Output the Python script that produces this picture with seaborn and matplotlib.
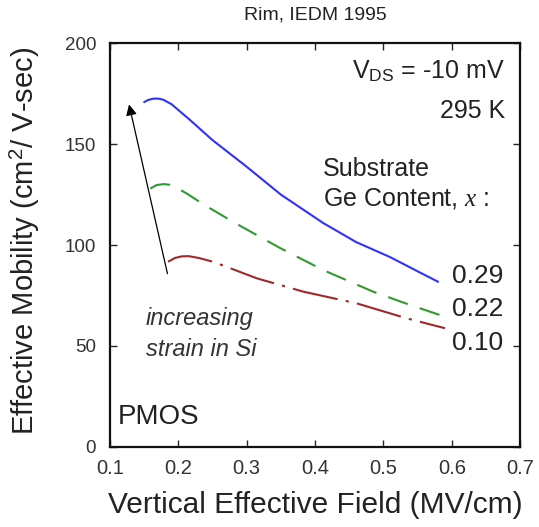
import pandas as pd
import matplotlib
matplotlib.use("Agg")
import matplotlib.pyplot as plt
import seaborn as sns

# values
field_029 = [0.150, 0.156, 0.163, 0.170, 0.178, 0.190, 0.217, 0.250, 0.300, 0.350, 0.412, 0.460, 0.510, 0.550, 0.580]
mob_029 = [170.8, 171.9, 172.5, 172.6, 172.0, 169.8, 162.0, 152.0, 138.8, 125.0, 110.9, 101.5, 94.0, 87.0, 81.8]

field_022 = [0.159, 0.168, 0.178, 0.190, 0.212, 0.240, 0.280, 0.349, 0.412, 0.485, 0.540, 0.583]
mob_022 = [128.0, 129.7, 130.2, 129.8, 125.6, 119.5, 111.5, 98.5, 87.6, 76.9, 70.2, 65.3]

field_010 = [0.185, 0.195, 0.205, 0.215, 0.230, 0.251, 0.280, 0.315, 0.383, 0.461, 0.534, 0.590]
mob_010 = [91.7, 93.6, 94.4, 94.5, 93.6, 91.7, 88.0, 83.5, 76.9, 71.1, 63.7, 58.8]

ge_labels = ["0.29", "0.22", "0.10"]
x_ticks = [0.1, 0.2, 0.3, 0.4, 0.5, 0.6, 0.7]
y_ticks = [0, 50, 100, 150, 200]

df = pd.concat([
    pd.DataFrame({"field": field_029, "mob": mob_029, "ge": "0.29"}),
    pd.DataFrame({"field": field_022, "mob": mob_022, "ge": "0.22"}),
    pd.DataFrame({"field": field_010, "mob": mob_010, "ge": "0.10"}),
])

sns.set_style("ticks")
plt.rcParams["font.family"] = ["Liberation Sans", "DejaVu Sans"]
plt.rcParams["mathtext.fontset"] = "custom"
plt.rcParams["mathtext.rm"] = "Liberation Sans"
plt.rcParams["mathtext.it"] = "Liberation Serif:italic"

fig = plt.figure(figsize=(5.39, 5.27), dpi=100)
ax = fig.add_axes([0.204, 0.152, 0.761, 0.766])

palette = {"0.29": "#3030ff", "0.22": "#2f9a2f", "0.10": "#a02828"}
dashes = {"0.29": "", "0.22": (10, 6), "0.10": (22, 4, 1.5, 4)}
sns.lineplot(data=df, x="field", y="mob", hue="ge", style="ge", palette=palette,
             dashes=dashes, sort=False, legend=False, linewidth=1.5, ax=ax)

ax.set_xlim(0.1, 0.7)
ax.set_ylim(0, 200)
ax.set_xticks(x_ticks)
ax.set_yticks(y_ticks)
ax.set_xticklabels([f"{t:.1f}" for t in x_ticks], fontsize=14.5, color="#333333")
ax.set_yticklabels([str(t) for t in y_ticks], fontsize=13.5, color="#333333")
ax.tick_params(direction="in", length=5, width=1, top=True, right=True)
ax.tick_params(axis="x", pad=9)
ax.tick_params(axis="y", pad=10)
for sp in ax.spines.values():
    sp.set_linewidth(1.6)
    sp.set_color("#111111")

ax.set_xlabel("Vertical Effective Field (MV/cm)", fontsize=21.5, color="#222222")
ax.set_ylabel("Effective Mobility (cm$^2$/ V-sec)", fontsize=21, color="#222222")
ax.xaxis.set_label_coords(0.5, -0.11)
ax.yaxis.set_label_coords(-0.165, 0.51)
ax.set_title("Rim, IEDM 1995", fontsize=14, color="#222222", pad=17)

ax.text(0.678, 186, r"V$_{\mathrm{DS}}$ = -10 mV", fontsize=18, ha="right", va="center", color="#222222")
ax.text(0.678, 166.5, "295 K", fontsize=18, ha="right", va="center", color="#222222")
ax.text(0.412, 137.5, "Substrate", fontsize=18, ha="left", va="center", color="#222222")
ax.text(0.412, 123, r"Ge Content, $x$ :", fontsize=18, ha="left", va="center", color="#222222")

for lab, yv in zip(ge_labels, [84.5, 68.5, 51.5]):
    ax.text(0.601, yv, lab, fontsize=19, ha="left", va="center", color="#222222")

ax.text(0.152, 63.5, "increasing", fontsize=17, style="italic", ha="left", va="center", color="#333333")
ax.text(0.152, 48.5, "strain in Si", fontsize=17, style="italic", ha="left", va="center", color="#333333")
ax.text(0.112, 15, "PMOS", fontsize=20, ha="left", va="center", color="#222222")

ax.annotate("", xy=(0.127, 171), xytext=(0.185, 84.5),
            arrowprops=dict(arrowstyle="-|>", color="black", lw=0.9, mutation_scale=16))

fig.savefig("out.png", dpi=100)
